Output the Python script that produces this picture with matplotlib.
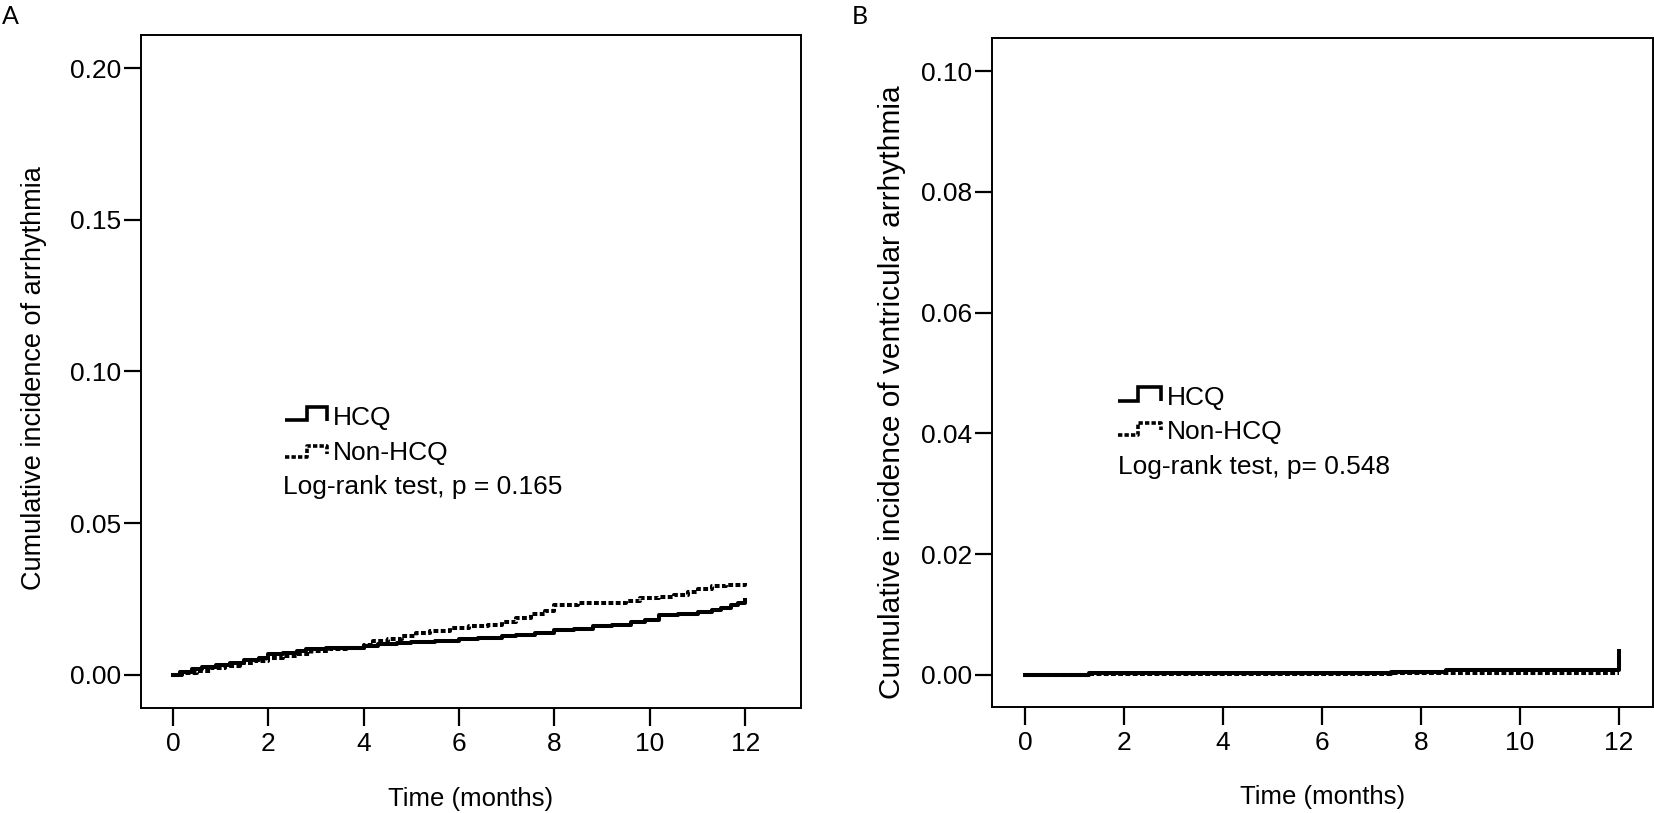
import matplotlib
matplotlib.use("Agg")
import matplotlib.pyplot as plt
from matplotlib.lines import Line2D

# ---------------- data ----------------
months_ticks = [0, 2, 4, 6, 8, 10, 12]

# Panel A: cumulative incidence of arrhythmia
a_hcq_t = [0, 0.15, 0.4, 0.6, 0.9, 1.2, 1.5, 1.8, 2.0, 2.3, 2.6, 2.8, 3.2, 3.6, 4.0,
           4.3, 4.7, 5.0, 5.5, 6.0, 6.4, 6.9, 7.2, 7.6, 8.0, 8.4, 8.8, 9.2, 9.6, 9.9,
           10.2, 10.6, 11.0, 11.3, 11.5, 11.7, 11.85, 12.0]
a_hcq_v = [0, 0.0008, 0.0018, 0.0025, 0.0032, 0.0040, 0.0048, 0.0057, 0.0068, 0.0072,
           0.0078, 0.0086, 0.0088, 0.0090, 0.0094, 0.0102, 0.0106, 0.0110, 0.0113,
           0.0118, 0.0121, 0.0128, 0.0133, 0.0139, 0.0147, 0.0153, 0.0160, 0.0166,
           0.0174, 0.0180, 0.0196, 0.0200, 0.0206, 0.0214, 0.0220, 0.0229, 0.0238, 0.0247]
a_non_t = [0, 0.2, 0.5, 0.8, 1.1, 1.4, 1.7, 2.0, 2.3, 2.6, 2.9, 3.3, 3.7, 4.0, 4.2,
           4.5, 4.8, 5.1, 5.4, 5.8, 6.2, 6.6, 6.9, 7.2, 7.5, 7.8, 8.0, 8.5, 9.0, 9.5,
           9.8, 10.2, 10.5, 10.8, 11.0, 11.3, 11.6, 12.0]
a_non_v = [0, 0.0006, 0.0014, 0.0022, 0.0030, 0.0038, 0.0046, 0.0055, 0.0062, 0.0068,
           0.0078, 0.0084, 0.0090, 0.0100, 0.0112, 0.0120, 0.0128, 0.0138, 0.0146,
           0.0155, 0.0160, 0.0165, 0.0176, 0.0187, 0.0200, 0.0212, 0.0232, 0.0236,
           0.0238, 0.0244, 0.0252, 0.0256, 0.0262, 0.0272, 0.0282, 0.0292, 0.0298, 0.0303]
a_yticks = [0.00, 0.05, 0.10, 0.15, 0.20]

# Panel B: cumulative incidence of ventricular arrhythmia
b_hcq_t = [0, 1.3, 7.4, 8.5, 12.0, 12.0]
b_hcq_v = [0, 0.0003, 0.0005, 0.0008, 0.0008, 0.0040]
b_non_t = [0, 1.3, 5.6, 7.4, 8.5, 12.0]
b_non_v = [0, 0.0001, 0.0002, 0.0003, 0.0004, 0.0004]
b_yticks = [0.00, 0.02, 0.04, 0.06, 0.08, 0.10]

labels = ["HCQ", "Non-HCQ"]
a_ylabel = "Cumulative incidence of arrhythmia"
b_ylabel = "Cumulative incidence of ventricular arrhythmia"
xlabel = "Time (months)"
a_test = "Log-rank test, p = 0.165"
b_test = "Log-rank test, p= 0.548"

# ---------------- style ----------------
W, H = 1654, 813
plt.rcParams['font.family'] = ['Liberation Sans', 'DejaVu Sans']
TICK_FS = 19
LEG_FS = 19
XL_FS = 18.5
fig = plt.figure(figsize=(W / 100, H / 100), dpi=100)

DASH = (0, (1.2, 0.6))


def px_axes(x0, x1, ytop, ybot):
    return fig.add_axes([x0 / W, (H - ybot) / H, (x1 - x0) / W, (ybot - ytop) / H])


def setup(ax, yticks, ylim, xlim, ylabel, ylabel_x, ylabel_y, ylabel_fs):
    ax.set_xlim(*xlim)
    ax.set_ylim(*ylim)
    ax.set_xticks(months_ticks)
    ax.set_xticklabels([str(m) for m in months_ticks])
    ax.set_yticks(yticks)
    ax.set_yticklabels([f"{v:.2f}" for v in yticks])
    for s in ax.spines.values():
        s.set_linewidth(1.4)
        s.set_color('black')
    ax.tick_params(axis='x', direction='out', length=13, width=1.6, pad=4,
                   labelsize=TICK_FS, colors='black')
    ax.tick_params(axis='y', direction='out', length=12.5, width=1.6, pad=2,
                   labelsize=TICK_FS, colors='black')
    ax.set_xlabel(xlabel, fontsize=XL_FS)
    ax.xaxis.set_label_coords(0.5, -0.117)
    ax.xaxis.label.set_va('top')
    ax.set_ylabel(ylabel, fontsize=ylabel_fs)
    ax.yaxis.set_label_coords(ylabel_x, ylabel_y)
    ax.yaxis.label.set_va('center')


def legend(ax, x0, x1, xm, yb1, yt1, yr1, yb2, yt2, yr2, ytext1, ytext2, ytest, xtext, xtest, test):
    bb = ax.get_position()
    ax_x0, ax_w = bb.x0 * W, bb.width * W
    ax_ytop = H - (bb.y0 + bb.height) * H
    ax_h = bb.height * H

    def fx(x):
        return (x - ax_x0) / ax_w

    def fy(y):
        return (ax_ytop + ax_h - y) / ax_h

    ax.add_line(Line2D([fx(x0), fx(xm), fx(xm), fx(x1), fx(x1)],
                       [fy(yb1), fy(yb1), fy(yt1), fy(yt1), fy(yr1)],
                       transform=ax.transAxes, color='black', lw=2.6,
                       solid_joinstyle='miter', solid_capstyle='butt'))
    ax.add_line(Line2D([fx(x0), fx(xm), fx(xm), fx(x1), fx(x1)],
                       [fy(yb2), fy(yb2), fy(yt2), fy(yt2), fy(yr2)],
                       transform=ax.transAxes, color='black', lw=2.6, linestyle=DASH,
                       dash_capstyle='butt'))
    ax.text(fx(xtext), fy(ytext1), labels[0], transform=ax.transAxes, fontsize=LEG_FS,
            ha='left', va='center')
    ax.text(fx(xtext), fy(ytext2), labels[1], transform=ax.transAxes, fontsize=LEG_FS,
            ha='left', va='center')
    ax.text(fx(xtest), fy(ytest), test, transform=ax.transAxes, fontsize=LEG_FS,
            ha='left', va='center')


# ---------------- panel A ----------------
axA = px_axes(141, 801, 35, 708)
setup(axA, a_yticks, (-0.0109, 0.2109), (-0.67, 13.17), a_ylabel, -0.162, 0.49, 19.5)
axA.step(a_hcq_t, a_hcq_v, where='post', color='black', lw=2.9)
axA.step(a_non_t, a_non_v, where='post', color='black', lw=2.9, linestyle=DASH)
legend(axA, 285, 327, 307, 420, 407, 421, 457, 446, 454, 418, 453, 487, 333, 283, a_test)

# ---------------- panel B ----------------
axB = px_axes(992, 1653, 38, 707)
setup(axB, b_yticks, (-0.0053, 0.1055), (-0.67, 12.69), b_ylabel, -0.152, 0.47, 21.5)
axB.step(b_hcq_t, b_hcq_v, where='post', color='black', lw=2.9)
axB.step(b_non_t, b_non_v, where='post', color='black', lw=2.9, linestyle=DASH)
legend(axB, 1118, 1161, 1138, 401, 387, 401, 435, 423, 430, 398, 432, 467, 1167, 1118, b_test)

# panel letters
fig.text(10 / W, 1 - 16 / H, "A", fontsize=18, family=['Lato', 'DejaVu Sans'],
         ha='center', va='center')
fig.text(860 / W, 1 - 16 / H, "B", fontsize=18, family=['Lato', 'DejaVu Sans'],
         ha='center', va='center')

fig.savefig("out.png", dpi=100, facecolor='white')
